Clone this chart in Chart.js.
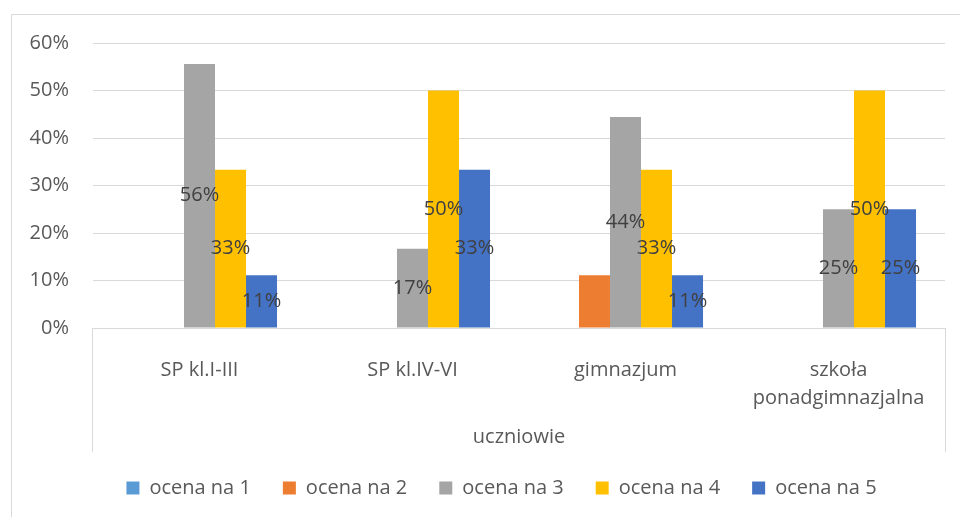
<!DOCTYPE html>
<html>
<head>
<meta charset="utf-8">
<script src="https://cdn.jsdelivr.net/npm/chart.js@4/dist/chart.umd.min.js"></script>
<style>
  html, body { margin: 0; padding: 0; background: #fff; }
  #wrap { width: 960px; height: 517px; }
</style>
</head>
<body>
<div id="wrap"><canvas id="barChart"></canvas></div>
<script>
const categories = ['SP kl.I-III', 'SP kl.IV-VI', 'gimnazjum', ['szkoła', 'ponadgimnazjalna']];
const ocena1 = [0, 0, 0, 0];
const ocena2 = [0, 0, 11.1, 0];
const ocena3 = [55.6, 16.7, 44.4, 25];
const ocena4 = [33.3, 50, 33.3, 50];
const ocena5 = [11.1, 33.3, 11.1, 25];
const yTicks = [0, 10, 20, 30, 40, 50, 60];

const font = 'Open Sans';
const gridColor = '#d9d9d9';

// labels in the middle of bars (only grades 3-5 carry them)
const barLabels = {
  id: 'barLabels',
  afterDatasetsDraw(chart) {
    const ctx = chart.ctx;
    ctx.save();
    ctx.font = '20px "' + font + '"';
    ctx.fillStyle = '#404040';
    ctx.textAlign = 'center';
    ctx.textBaseline = 'middle';
    [2, 3, 4].forEach((i) => {
      const meta = chart.getDatasetMeta(i);
      meta.data.forEach((bar, j) => {
        const v = chart.data.datasets[i].data[j];
        if (!v) return;
        ctx.fillText(Math.round(v) + '%', bar.x, (bar.y + bar.base) / 2);
      });
    });
    ctx.restore();
  }
};

// outer frame and the box round the category axis
const frame = {
  id: 'frame',
  afterLayout(chart) {
    // legend sits a bit right of the canvas centre in the original
    chart.legend.left += 29;
    chart.legend.right += 29;
  },
  afterDraw(chart) {
    const ctx = chart.ctx;
    const area = chart.chartArea;
    const x = chart.scales.x;
    ctx.save();
    ctx.strokeStyle = gridColor;
    ctx.lineWidth = 1;
    ctx.beginPath();
    ctx.moveTo(11.5, 600);
    ctx.lineTo(11.5, 14.5);
    ctx.lineTo(960, 14.5);
    ctx.moveTo(Math.round(area.left) - 0.5, area.bottom);
    ctx.lineTo(Math.round(area.left) - 0.5, x.bottom + 6);
    ctx.moveTo(Math.round(area.right) + 0.5, area.bottom);
    ctx.lineTo(Math.round(area.right) + 0.5, x.bottom + 6);
    ctx.stroke();
    ctx.restore();
  }
};

new Chart(document.getElementById('barChart'), {
  type: 'bar',
  data: {
    labels: categories,
    datasets: [
      { label: 'ocena na 1', data: ocena1, backgroundColor: '#5b9bd5' },
      { label: 'ocena na 2', data: ocena2, backgroundColor: '#ed7d31' },
      { label: 'ocena na 3', data: ocena3, backgroundColor: '#a5a5a5' },
      { label: 'ocena na 4', data: ocena4, backgroundColor: '#ffc000' },
      { label: 'ocena na 5', data: ocena5, backgroundColor: '#4472c4' }
    ]
  },
  options: {
    responsive: true,
    maintainAspectRatio: false,
    animation: false,
    datasets: { bar: { categoryPercentage: 0.728, barPercentage: 1 } },
    layout: { padding: { left: 0, right: 15, top: 43, bottom: 9 } },
    plugins: {
      tooltip: { enabled: false },
      legend: {
        position: 'bottom',
        labels: {
          color: '#595959',
          font: { family: font, size: 20 },
          boxWidth: 13,
          boxHeight: 13,
          padding: 32
        }
      }
    },
    scales: {
      x: {
        grid: { display: false },
        border: { display: true, color: gridColor },
        ticks: {
          color: '#595959',
          padding: 20,
          font: { family: font, size: 20, lineHeight: 1.4 },
          maxRotation: 0,
          autoSkip: false
        },
        title: {
          display: true,
          text: 'uczniowie',
          color: '#595959',
          font: { family: font, size: 20, lineHeight: 1.2 },
          padding: { top: 0, bottom: -3 }
        },
        afterFit(scale) { scale.height = 118; }
      },
      y: {
        min: 0,
        max: 60,
        afterBuildTicks(scale) { scale.ticks = yTicks.map((v) => ({ value: v })); },
        grid: { color: gridColor, drawTicks: false },
        border: { display: false },
        ticks: {
          color: '#595959',
          padding: 24,
          font: { family: font, size: 20 },
          callback: (v) => v + '%'
        },
        afterFit(scale) { scale.width = 93; }
      }
    }
  },
  plugins: [barLabels, frame]
});
</script>
</body>
</html>
